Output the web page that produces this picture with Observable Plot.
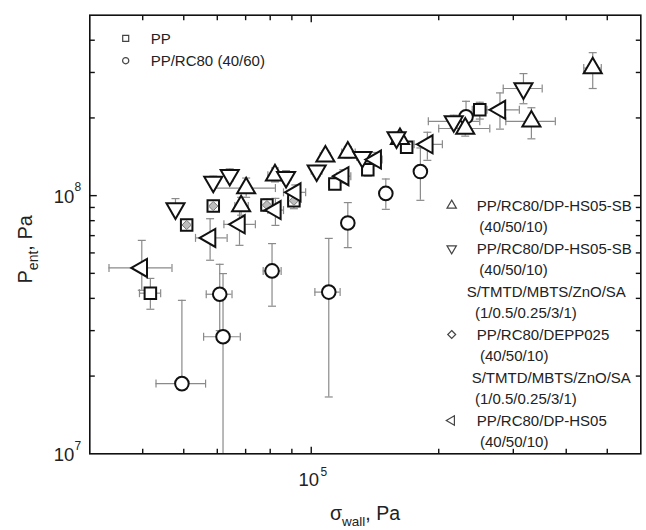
<!DOCTYPE html>
<html><head><meta charset="utf-8">
<script src="https://cdn.jsdelivr.net/npm/d3@7"></script>
<script src="https://cdn.jsdelivr.net/npm/@observablehq/plot@0.6"></script>
<style>
html,body{margin:0;padding:0;background:#fff;}
#chart{width:646px;height:530px;}
svg{font-family:"Liberation Sans",Arial,Helvetica,sans-serif;}
</style></head><body><div id="chart"></div>
<script>
// ---------- data ----------
// PP (squares)
const ppX   = [4.17e4, 5.08e4, 5.87e4, 7.86e4, 9.10e4, 1.137e5, 1.36e5, 1.68e5, 2.50e5];
const ppY   = [4.19e7, 7.70e7, 9.11e7, 9.19e7, 9.56e7, 1.11e8, 1.26e8, 1.54e8, 2.15e8];
const ppXlo = [3.93e4, 4.95e4, 5.75e4, 7.60e4, 8.80e4, 1.10e5, 1.32e5, 1.63e5, 2.40e5];
const ppXhi = [4.41e4, 5.22e4, 6.00e4, 8.10e4, 9.40e4, 1.17e5, 1.40e5, 1.73e5, 2.60e5];
const ppYlo = [3.63e7, 7.40e7, 8.80e7, 8.70e7, 8.90e7, 1.06e8, 1.19e8, 1.48e8, 1.98e8];
const ppYhi = [4.78e7, 8.00e7, 9.40e7, 9.70e7, 1.02e8, 1.16e8, 1.33e8, 1.60e8, 2.30e8];
// PP/RC80 (40/60) (circles)
const rcX   = [4.95e4, 6.08e4, 6.19e4, 8.08e4, 1.10e5, 1.22e5, 1.50e5, 1.81e5, 2.32e5];
const rcY   = [1.87e7, 4.15e7, 2.84e7, 5.11e7, 4.23e7, 7.84e7, 1.02e8, 1.24e8, 2.02e8];
const rcXlo = [4.30e4, 5.65e4, 5.57e4, 7.70e4, 1.02e5, 1.22e5, 1.50e5, 1.81e5, 2.32e5];
const rcXhi = [5.63e4, 6.50e4, 6.80e4, 8.49e4, 1.17e5, 1.22e5, 1.50e5, 1.81e5, 2.32e5];
const rcYlo = [1.87e7, 3.00e7, 1.00e7, 3.73e7, 1.66e7, 6.29e7, 8.85e7, 9.59e7, 1.76e8];
const rcYhi = [3.93e7, 5.42e7, 4.99e7, 6.52e7, 6.83e7, 9.40e7, 1.16e8, 1.53e8, 2.32e8];
// PP/RC80/DP-HS05-SB (up triangles)
const upX   = [6.83e4, 7.02e4, 8.21e4, 1.08e5, 1.22e5, 1.62e5, 2.31e5, 3.31e5, 4.62e5];
const upY   = [9.11e7, 1.07e8, 1.20e8, 1.42e8, 1.47e8, 1.66e8, 1.82e8, 1.94e8, 3.12e8];
const upXlo = [6.60e4, 5.87e4, 7.90e4, 1.05e5, 1.18e5, 1.58e5, 2.00e5, 2.88e5, 4.40e5];
const upXhi = [7.10e4, 8.23e4, 8.50e4, 1.11e5, 1.27e5, 1.66e5, 2.64e5, 3.77e5, 4.84e5];
const upYlo = [8.40e7, 9.85e7, 1.13e8, 1.36e8, 1.40e8, 1.58e8, 1.70e8, 1.66e8, 2.60e8];
const upYhi = [9.85e7, 1.17e8, 1.28e8, 1.49e8, 1.55e8, 1.74e8, 1.99e8, 2.19e8, 3.58e8];
// PP/RC80/DP-HS05-SB + S/TMTD/MBTS/ZnO/SA (down triangles)
const dnX   = [4.78e4, 5.87e4, 6.42e4, 8.72e4, 1.03e5, 1.32e5, 1.59e5, 2.17e5, 3.17e5];
const dnY   = [8.91e7, 1.13e8, 1.20e8, 1.18e8, 1.25e8, 1.41e8, 1.68e8, 1.94e8, 2.60e8];
const dnXlo = [4.70e4, 5.75e4, 6.30e4, 8.50e4, 1.00e5, 1.28e5, 1.55e5, 1.89e5, 2.84e5];
const dnXhi = [4.86e4, 6.00e4, 6.55e4, 8.95e4, 1.06e5, 1.36e5, 1.63e5, 2.50e5, 3.51e5];
const dnYlo = [8.50e7, 1.08e8, 1.14e8, 1.12e8, 1.19e8, 1.35e8, 1.62e8, 1.84e8, 2.27e8];
const dnYhi = [9.74e7, 1.19e8, 1.27e8, 1.25e8, 1.31e8, 1.48e8, 1.76e8, 2.05e8, 2.97e8];
// PP/RC80/DEPP025 (diamonds, hidden under squares)
const dmX   = [5.08e4, 5.87e4, 7.86e4, 9.10e4];
const dmY   = [7.70e7, 9.11e7, 9.19e7, 9.56e7];
// PP/RC80/DP-HS05 (left triangles)
const ltX   = [3.98e4, 5.77e4, 6.77e4, 8.23e4, 9.17e4, 1.19e5, 1.42e5, 1.88e5, 2.79e5];
const ltY   = [5.25e7, 6.86e7, 7.74e7, 8.79e7, 1.03e8, 1.19e8, 1.38e8, 1.58e8, 2.15e8];
const ltXlo = [3.33e4, 5.33e4, 6.22e4, 7.90e4, 8.60e4, 1.15e5, 1.36e5, 1.75e5, 2.54e5];
const ltXhi = [4.69e4, 6.33e4, 7.38e4, 8.60e4, 9.70e4, 1.24e5, 1.47e5, 2.04e5, 3.10e5];
const ltYlo = [4.30e7, 5.62e7, 6.42e7, 7.67e7, 9.50e7, 1.12e8, 1.30e8, 1.37e8, 1.81e8];
const ltYhi = [6.71e7, 8.14e7, 9.17e7, 9.76e7, 1.10e8, 1.26e8, 1.47e8, 1.76e8, 2.50e8];

// axes
const xDomain = [3e4, 6e5];
const yDomain = [1e7, 5e8];
const xMinor = [4e4, 5e4, 6e4, 7e4, 8e4, 9e4, 2e5, 3e5, 4e5, 5e5];
const xMajor = [1e5];
const yMinor = [2e7, 3e7, 4e7, 5e7, 6e7, 7e7, 8e7, 9e7, 2e8, 3e8, 4e8];
const yMajor = [1e8];
const xLabelValues = [1e5];
const xLabelExps = ["5"];
const yLabelValues = [1e7, 1e8];
const yLabelExps = ["7", "8"];

// legends
const legendTopLabels = ["PP", "PP/RC80 (40/60)"];
const legendRightLines = [
  "PP/RC80/DP-HS05-SB", "(40/50/10)",
  "PP/RC80/DP-HS05-SB", "(40/50/10)", "S/TMTD/MBTS/ZnO/SA", "(1/0.5/0.25/3/1)",
  "PP/RC80/DEPP025", "(40/50/10)", "S/TMTD/MBTS/ZnO/SA", "(1/0.5/0.25/3/1)",
  "PP/RC80/DP-HS05", "(40/50/10)"
];

// ---------- helpers ----------
function rows(xs, ys, xlo, xhi, ylo, yhi) {
  return xs.map((x, i) => ({x, y: ys[i], xlo: xlo ? xlo[i] : x, xhi: xhi ? xhi[i] : x, ylo: ylo ? ylo[i] : ys[i], yhi: yhi ? yhi[i] : ys[i]}));
}
const pp = rows(ppX, ppY, ppXlo, ppXhi, ppYlo, ppYhi);
const rc = rows(rcX, rcY, rcXlo, rcXhi, rcYlo, rcYhi);
const up = rows(upX, upY, upXlo, upXhi, upYlo, upYhi);
const dn = rows(dnX, dnY, dnXlo, dnXhi, dnYlo, dnYhi);
const lt = rows(ltX, ltY, ltXlo, ltXhi, ltYlo, ltYhi);
const dm = rows(dmX, dmY);
const all = [...rc, ...pp, ...up, ...dn, ...lt];

const hCaps = [], vCaps = [];
for (const d of all) {
  if (d.yhi > d.y) hCaps.push({x: d.x, y: d.yhi});
  if (d.ylo < d.y && d.ylo > yDomain[0]) hCaps.push({x: d.x, y: d.ylo});
  if (d.xhi > d.x) vCaps.push({x: d.xhi, y: d.y});
  if (d.xlo < d.x) vCaps.push({x: d.xlo, y: d.y});
}

const S3 = Math.sqrt(3);
const sym = (fn) => ({draw(c, size) { fn(c, Math.sqrt(size / Math.PI)); }});
const hcap = sym((c, r) => { c.moveTo(-r, 0); c.lineTo(r, 0); });
const vcap = sym((c, r) => { c.moveTo(0, -r); c.lineTo(0, r); });
const tickN = sym((c, r) => { c.moveTo(0, 0); c.lineTo(0, -r); });
const tickS = sym((c, r) => { c.moveTo(0, 0); c.lineTo(0, r); });
const tickE = sym((c, r) => { c.moveTo(0, 0); c.lineTo(r, 0); });
const tickW = sym((c, r) => { c.moveTo(0, 0); c.lineTo(-r, 0); });
const triDown = {draw(c, size) { const y = -Math.sqrt(size / (S3 * 3)); c.moveTo(0, -2 * y); c.lineTo(S3 * y, y); c.lineTo(-S3 * y, y); c.closePath(); }};
const triLeft = {draw(c, size) { const y = -Math.sqrt(size / (S3 * 3)); c.moveTo(2 * y, 0); c.lineTo(-y, S3 * y); c.lineTo(-y, -S3 * y); c.closePath(); }};

const INK = "#111", ERR = "#8a8a8a";
const mk = {stroke: INK, strokeWidth: 2, fill: "white"};
const fx = (d) => d;

const plot = Plot.plot({
  width: 646, height: 530,
  marginLeft: 89.3, marginRight: 5.7, marginTop: 14.7, marginBottom: 76.7,
  x: {type: "log", domain: xDomain, axis: null},
  y: {type: "log", domain: yDomain, axis: null},
  style: {fontFamily: '"Liberation Sans", Arial, sans-serif', background: "white"},
  marks: [
    // error bars
    Plot.ruleX(all.filter(d => d.yhi > d.ylo), {x: "x", y1: "ylo", y2: "yhi", stroke: ERR, strokeWidth: 1.2}),
    Plot.ruleY(all.filter(d => d.xhi > d.xlo), {y: "y", x1: "xlo", x2: "xhi", stroke: ERR, strokeWidth: 1.2}),
    Plot.dot(hCaps, {x: "x", y: "y", symbol: hcap, r: 4, stroke: ERR, strokeWidth: 1.2, fill: "none"}),
    Plot.dot(vCaps, {x: "x", y: "y", symbol: vcap, r: 4, stroke: ERR, strokeWidth: 1.2, fill: "none"}),
    // markers
    Plot.dot(rc, {x: "x", y: "y", symbol: "circle", r: 6.8, ...mk}),
    Plot.dot(pp, {x: "x", y: "y", symbol: "square", r: 6.5, ...mk}),
    Plot.dot(dm, {x: "x", y: "y", symbol: "diamond2", r: 4.2, stroke: "#777", strokeWidth: 1, fill: "#bdbdbd"}),
    Plot.dot(up, {x: "x", y: "y", symbol: "triangle", r: 6.7, ...mk}),
    Plot.dot(dn, {x: "x", y: "y", symbol: triDown, r: 6.7, ...mk}),
    Plot.dot(lt, {x: "x", y: "y", symbol: triLeft, r: 6.7, ...mk}),
    // frame and inward ticks
    Plot.frame({stroke: INK, strokeWidth: 1.6}),
    Plot.dot(xMinor, {x: fx, y: () => yDomain[0], symbol: tickN, r: 5, stroke: INK, strokeWidth: 1.4, fill: "none"}),
    Plot.dot(xMinor, {x: fx, y: () => yDomain[1], symbol: tickS, r: 5, stroke: INK, strokeWidth: 1.4, fill: "none"}),
    Plot.dot(xMajor, {x: fx, y: () => yDomain[0], symbol: tickN, r: 7, stroke: INK, strokeWidth: 1.4, fill: "none"}),
    Plot.dot(xMajor, {x: fx, y: () => yDomain[1], symbol: tickS, r: 7, stroke: INK, strokeWidth: 1.4, fill: "none"}),
    Plot.dot(yMinor, {y: fx, x: () => xDomain[0], symbol: tickE, r: 5, stroke: INK, strokeWidth: 1.4, fill: "none"}),
    Plot.dot(yMinor, {y: fx, x: () => xDomain[1], symbol: tickW, r: 5, stroke: INK, strokeWidth: 1.4, fill: "none"}),
    Plot.dot(yMajor, {y: fx, x: () => xDomain[0], symbol: tickE, r: 7, stroke: INK, strokeWidth: 1.4, fill: "none"}),
    Plot.dot(yMajor, {y: fx, x: () => xDomain[1], symbol: tickW, r: 7, stroke: INK, strokeWidth: 1.4, fill: "none"}),
    // tick labels
    Plot.text(xLabelValues, {x: fx, y: () => yDomain[0], text: () => "10", dy: 26, dx: -2.5, fontSize: 18.5, fill: "#222"}),
    Plot.text(xLabelValues, {x: fx, y: () => yDomain[0], text: (d, i) => xLabelExps[i], dy: 18.5, dx: 12.5, fontSize: 12, fill: "#222"}),
    Plot.text(yLabelValues, {y: fx, x: () => xDomain[0], text: () => "10", dx: -15.5, dy: 1.5, textAnchor: "end", fontSize: 18.5, fill: "#222"}),
    Plot.text(yLabelValues, {y: fx, x: () => xDomain[0], text: (d, i) => yLabelExps[i], dx: -15.3, dy: -8, textAnchor: "start", fontSize: 12, fill: "#222"})
  ]
});

const svg = d3.select(plot);

// axis titles
const xt = svg.append("text").attr("x", 365).attr("y", 520).attr("text-anchor", "middle")
  .attr("fill", "#222").style("font-size", "19.5px");
xt.append("tspan").text("σ");
xt.append("tspan").attr("dy", 5.5).style("font-size", "13.5px").text("wall");
xt.append("tspan").attr("dy", -5.5).text(", Pa");

const yt = svg.append("text").attr("transform", "translate(31.7,283.5) rotate(-90)").attr("text-anchor", "start")
  .attr("fill", "#222").style("font-size", "20px");
yt.append("tspan").text("P");
yt.append("tspan").attr("dy", 6.5).style("font-size", "14px").text("ent");
yt.append("tspan").attr("dy", -6.5).text(", Pa");

// legends
const LG = "#444";
function legSym(type, size, x, y) {
  svg.append("path").attr("d", d3.symbol(type, size)()).attr("transform", `translate(${x},${y})`)
    .attr("fill", "none").attr("stroke", LG).attr("stroke-width", 1.2);
}
function legText(t, x, y) {
  svg.append("text").attr("x", x).attr("y", y).attr("dy", "0.36em").attr("fill", "#222")
    .attr("text-anchor", "start").style("font-size", "15px").text(t);
}
legSym(d3.symbolSquare, 36, 125.7, 38.3);
legSym(d3.symbolCircle, 30, 125.7, 60.7);
legText(legendTopLabels[0], 150.7, 38.3);
legText(legendTopLabels[1], 150.7, 60.7);

const rowY = [205.5, 227, 248.5, 270, 291.5, 313, 334.5, 356, 377.5, 399, 420.5, 442];
const rowX = [476.7, 479.3, 476.7, 479.3, 466.7, 475, 476.7, 480, 471.7, 475, 476.7, 480];
legendRightLines.forEach((t, i) => legText(t, rowX[i], rowY[i]));
legSym(d3.symbolTriangle, 38, 451.7, 205.5);
legSym(triDown, 38, 451.7, 248.5);
legSym(d3.symbolDiamond2, 40, 451.7, 334.5);
legSym(triLeft, 38, 451.7, 420.5);

document.getElementById("chart").appendChild(plot);
</script></body></html>
